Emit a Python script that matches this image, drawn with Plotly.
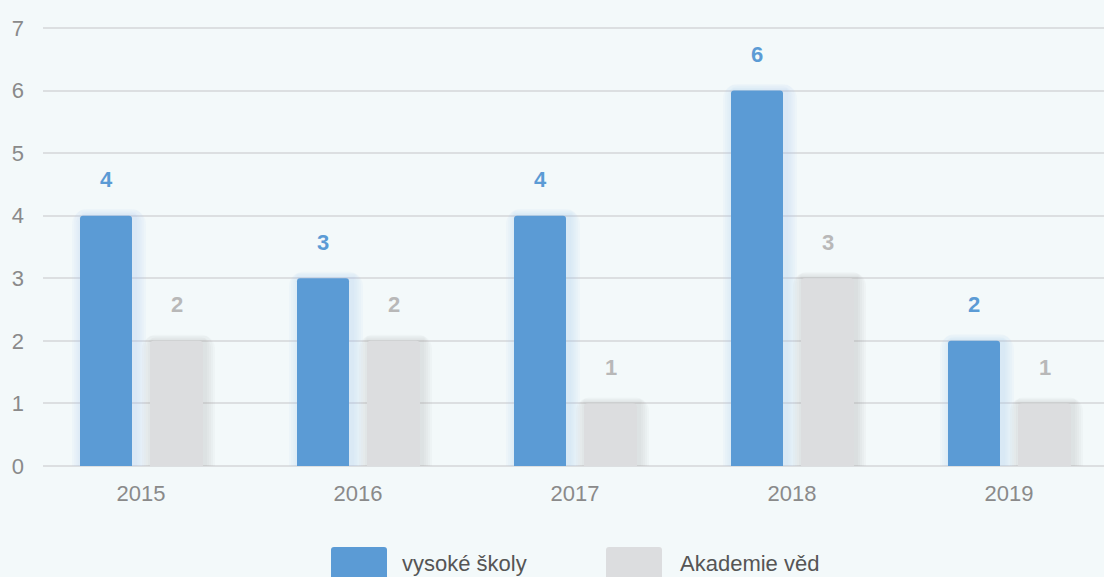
import plotly.graph_objects as go

# chart data
years = ['2015', '2016', '2017', '2018', '2019']
vysoke_skoly = [4, 3, 4, 6, 2]
akademie_ved = [2, 2, 1, 3, 1]

BLUE = '#5b9bd5'
GREY = '#dcdddf'
BG = '#f3f9fa'
FONT = 'Liberation Sans, Arial, sans-serif'

# pixel geometry of the plot area (used for the hand-drawn legend)
W, H = 1104, 577
L, R, T, B = 43, 0, 24, 111
PW, PH = W - L - R, H - T - B
PX_PER_Y = (H - B - 28) / 7.0
PX_PER_X = 217.0

x = list(range(len(years)))
bar_w_blue = 52 / PX_PER_X
bar_w_grey = 53 / PX_PER_X
shift_blue = -35 / PX_PER_X
shift_grey = 35.5 / PX_PER_X

fig = go.Figure()


def add_shadow(values, shift, width, color, spread_px, dx, opacity):
    # soft glow behind the bars: a few wide, faint layers
    n = 5
    for k in range(n, 0, -1):
        extra = spread_px * k / n
        w = width + 2 * extra / PX_PER_X
        fig.add_trace(go.Bar(
            x=x, y=[v + extra * 0.6 / PX_PER_Y for v in values],
            width=w, offset=shift - w / 2 + dx / PX_PER_X,
            marker=dict(color=color, line=dict(width=0), cornerradius=int(4 + extra)),
            opacity=opacity, hoverinfo='skip', showlegend=False,
        ))


add_shadow(vysoke_skoly, shift_blue, bar_w_blue, '#a9cdf0', 11, 3, 0.07)
add_shadow(akademie_ved, shift_grey, bar_w_grey, '#9a9a9a', 10, 2, 0.05)

fig.add_trace(go.Bar(
    x=x, y=vysoke_skoly, name='vysoké školy',
    width=bar_w_blue, offset=shift_blue - bar_w_blue / 2,
    marker=dict(color=BLUE, line=dict(width=0), cornerradius=3),
    showlegend=False,
))
fig.add_trace(go.Bar(
    x=x, y=akademie_ved, name='Akademie věd',
    width=bar_w_grey, offset=shift_grey - bar_w_grey / 2,
    marker=dict(color=GREY, line=dict(width=0), cornerradius=4),
    showlegend=False,
))

# value labels above the bars
for i, v in enumerate(vysoke_skoly):
    fig.add_annotation(x=i + shift_blue, y=v, yshift=36, text=f'<b>{v}</b>',
                       showarrow=False, font=dict(size=22, color=BLUE, family=FONT))
for i, v in enumerate(akademie_ved):
    fig.add_annotation(x=i + shift_grey, y=v, yshift=36, text=f'<b>{v}</b>',
                       showarrow=False, font=dict(size=22, color='#b8b8b8', family=FONT))


def px_to_paper(px, py):
    return (px - L) / PW, (H - B - py) / PH


def rounded_box(x0, y0, x1, y1, r=3):
    # rounded rectangle path in paper coordinates from pixel corners
    pts = [
        (x0 + r, y0), (x1 - r, y0), (x1, y0 + r), (x1, y1 - r),
        (x1 - r, y1), (x0 + r, y1), (x0, y1 - r), (x0, y0 + r),
    ]
    p = [px_to_paper(*q) for q in pts]
    c = [px_to_paper(x1, y0), px_to_paper(x1, y1), px_to_paper(x0, y1), px_to_paper(x0, y0)]
    f = lambda q: f'{q[0]:.5f},{q[1]:.5f}'
    return (f'M {f(p[0])} L {f(p[1])} Q {f(c[0])} {f(p[2])} L {f(p[3])} '
            f'Q {f(c[1])} {f(p[4])} L {f(p[5])} Q {f(c[2])} {f(p[6])} '
            f'L {f(p[7])} Q {f(c[3])} {f(p[0])} Z')


# legend drawn by hand (large rounded swatches)
legend_items = [('vysoké školy', BLUE, 331, 400), ('Akademie věd', GREY, 606, 678)]
for label, color, bx, tx in legend_items:
    fig.add_shape(type='path', path=rounded_box(bx, 547, bx + 56, 580),
                  xref='paper', yref='paper', fillcolor=color, line=dict(width=0))
    ax, ay = px_to_paper(tx, 563)
    fig.add_annotation(x=ax, y=ay, xref='paper', yref='paper', text=label,
                       showarrow=False, xanchor='left', yanchor='middle',
                       font=dict(size=22, color='#555555', family=FONT))

fig.update_layout(
    width=W, height=H,
    barmode='overlay',
    paper_bgcolor=BG, plot_bgcolor=BG,
    margin=dict(l=L, r=R, t=T, b=B),
    font=dict(family=FONT, color='#8a8a8a', size=22),
    showlegend=False,
    xaxis=dict(
        range=[-98 / PX_PER_X, -98 / PX_PER_X + PW / PX_PER_X],
        tickvals=x, ticktext=years,
        showgrid=False, zeroline=False, showline=False,
        ticks='', ticklabelstandoff=12,
        tickfont=dict(size=22, color='#8a8a8a'),
    ),
    yaxis=dict(
        range=[0, PH / PX_PER_Y], tickvals=list(range(8)),
        showgrid=True, gridcolor='#dcdfe1', gridwidth=2,
        zeroline=True, zerolinecolor='#dcdfe1', zerolinewidth=2,
        showline=False, ticks='', ticklabelstandoff=18,
        tickfont=dict(size=22, color='#8a8a8a'),
    ),
)

fig.write_html('out.html', config={'displayModeBar': False}, post_script=(
    "document.body.style.margin='0';"
    "document.body.style.background='#f3f9fa';"
))
